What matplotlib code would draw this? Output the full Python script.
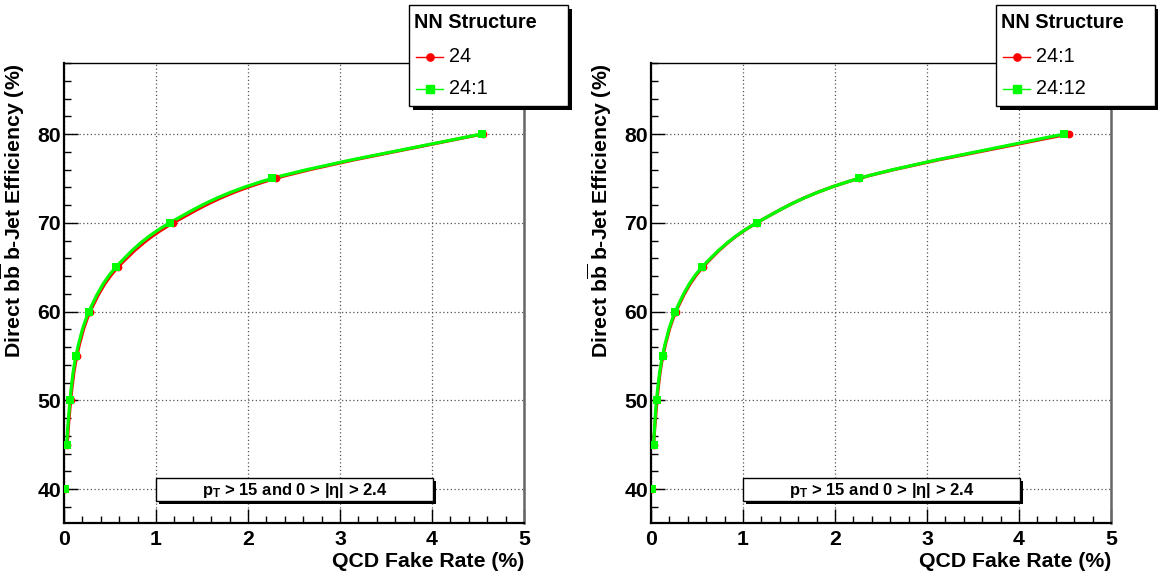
import matplotlib

matplotlib.use("Agg")
import matplotlib.pyplot as plt
from matplotlib.lines import Line2D
from matplotlib.patches import PathPatch, Rectangle
from matplotlib.path import Path
from matplotlib.ticker import MultipleLocator
from matplotlib.transforms import Affine2D

W, H = 1158, 576

# signal efficiency working points (%) and QCD fake rate (%) per NN structure
EFF = [40, 45, 50, 55, 60, 65, 70, 75, 80]
FAKE_24 = [0.012, 0.035, 0.072, 0.14, 0.285, 0.587, 1.19, 2.30, 4.55]
FAKE_24_1 = [0.012, 0.029, 0.065, 0.13, 0.272, 0.565, 1.152, 2.264, 4.54]
FAKE_24_12 = [0.012, 0.028, 0.06, 0.125, 0.265, 0.555, 1.15, 2.26, 4.49]

PANELS = [
    [("24", FAKE_24), ("24:1", FAKE_24_1)],
    [("24:1", FAKE_24_1), ("24:12", FAKE_24_12)],
]
STYLES = [("#ff0000", "o"), ("#00ff00", "s")]

plt.rcParams["font.family"] = ["Liberation Sans", "DejaVu Sans"]
plt.rcParams["mathtext.fontset"] = "custom"
plt.rcParams["mathtext.rm"] = "Liberation Sans:bold"
plt.rcParams["mathtext.it"] = "Liberation Sans:bold"
plt.rcParams["mathtext.bf"] = "Liberation Sans:bold"

FS = 15.3


def smooth_path(xs, ys):
    """Catmull-Rom curve through the points, as cubic Bezier segments."""
    pts = list(zip(xs, ys))
    n = len(pts)
    verts, codes = [pts[0]], [Path.MOVETO]
    for i in range(n - 1):
        p0 = pts[max(i - 1, 0)]
        p1, p2 = pts[i], pts[i + 1]
        p3 = pts[min(i + 2, n - 1)]
        c1 = (p1[0] + (p2[0] - p0[0]) / 6, p1[1] + (p2[1] - p0[1]) / 6)
        c2 = (p2[0] - (p3[0] - p1[0]) / 6, p2[1] - (p3[1] - p1[1]) / 6)
        verts += [c1, c2, p2]
        codes += [Path.CURVE4] * 3
    return Path(verts, codes)


fig = plt.figure(figsize=(W / 100, H / 100), dpi=100)
# pixel coordinates with origin at the top-left corner
pix = Affine2D().scale(1 / W, -1 / H).translate(0, 1) + fig.transFigure


def shadow_box(x0, y0, x1, y1, off):
    fig.patches.append(Rectangle((x0 + off, y0 + off), x1 - x0, y1 - y0,
                                 transform=pix, fc="black", ec="none", zorder=5))
    fig.patches.append(Rectangle((x0, y0), x1 - x0, y1 - y0, transform=pix,
                                 fc="white", ec="black", lw=1, zorder=6))


for k, series in enumerate(PANELS):
    left = 64 + 587 * k
    ax = fig.add_axes([left / W, 1 - 523 / H, 460 / W, 460 / H])
    ax.set_xlim(0, 5)
    ax.set_ylim(36.17, 88.0)

    for (label, fake), (color, marker) in zip(series, STYLES):
        # the curve starts at the 45% point, the 40% point is a lone marker
        ax.add_patch(PathPatch(smooth_path(fake[1:], EFF[1:]), fc="none",
                               ec=color, lw=2.3, zorder=3))
        ax.plot(fake, EFF, ls="none", marker=marker, ms=5.6, color=color,
                mec=color, mew=0, zorder=4)

    ax.xaxis.set_major_locator(MultipleLocator(1))
    ax.xaxis.set_minor_locator(MultipleLocator(0.2))
    ax.yaxis.set_major_locator(MultipleLocator(10))
    ax.yaxis.set_minor_locator(MultipleLocator(2))
    ax.tick_params(which="both", direction="in", top=False, right=False,
                   width=1, labelsize=FS)
    ax.tick_params(which="major", length=10)
    ax.tick_params(which="minor", length=5)
    ax.tick_params(axis="x", pad=5)
    ax.tick_params(axis="y", pad=2)
    for t in ax.get_xticklabels() + ax.get_yticklabels():
        t.set_fontweight("bold")
    ax.grid(True, which="major", ls=(0, (1, 2)), color="#555555", lw=0.9)
    ax.set_axisbelow(True)

    for side in ("left", "bottom"):
        ax.spines[side].set_linewidth(1.6)
    ax.spines["top"].set_linewidth(1.0)
    ax.spines["right"].set_linewidth(1.8)
    ax.spines["right"].set_color("#666666")

    ax.set_xlabel("QCD Fake Rate (%)", fontsize=FS, fontweight="bold",
                  loc="right")
    ax.xaxis.set_label_coords(1.0, -0.062)
    ax.set_ylabel(r"Direct b$\overline{b}$ b-Jet Efficiency (%)", fontsize=FS,
                  fontweight="bold", loc="top")
    ax.yaxis.set_label_coords(-0.08, 1.0)

    # cut label box
    shadow_box(left + 92, 478, left + 369, 501, 2.5)
    fig.text((left + 230.5) / W, 1 - 490 / H,
             "$p_T$ > 15 and 0 > |η| > 2.4", fontsize=12, fontweight="bold",
             ha="center", va="center", zorder=7)

    # legend
    lx = left + 345
    shadow_box(lx, 5, lx + 159, 106, 4)
    fig.text((lx + 5) / W, 1 - 22 / H, "NN Structure", fontsize=14.3,
             fontweight="bold", ha="left", va="center", zorder=7)
    for j, ((label, _), (color, marker)) in enumerate(zip(series, STYLES)):
        y = 57 + 32 * j
        fig.lines.append(Line2D([lx + 7, lx + 34], [y, y], transform=pix,
                                color=color, lw=1, zorder=7))
        fig.lines.append(Line2D([lx + 20.5], [y], transform=pix, ls="none",
                                marker=marker, ms=5.2, color=color, zorder=7))
        fig.text((lx + 40) / W, 1 - y / H, label, fontsize=14.3, ha="left",
                 va="center", zorder=7)

fig.savefig("out.png", dpi=100)
